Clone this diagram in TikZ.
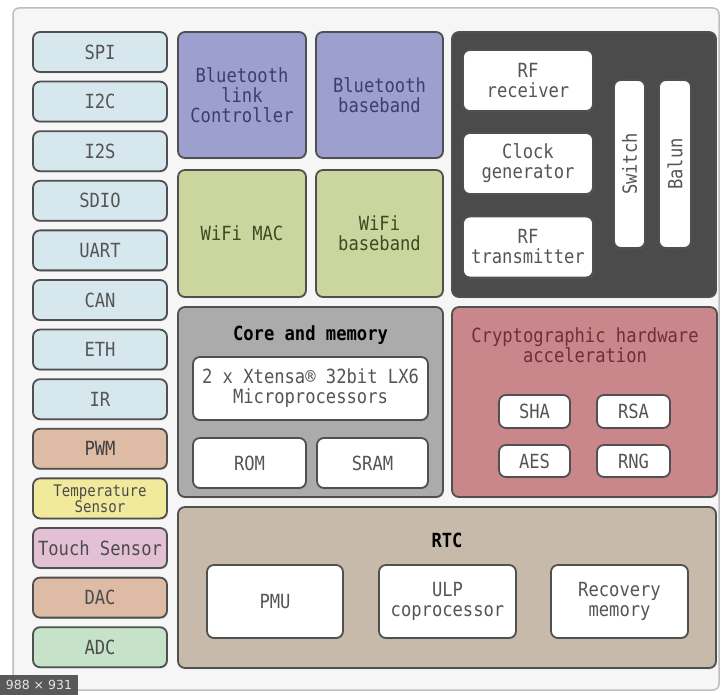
\documentclass[tikz,border=0pt]{standalone}
\usepackage{fontspec}
\setmainfont[FakeStretch=0.88]{DejaVu Sans Mono}
\newfontfamily\dimfont{DejaVu Sans}
\usetikzlibrary{shadows}
\definecolor{edge}{HTML}{505050}
\definecolor{ifc}{HTML}{D6E8EE}
\definecolor{tan}{HTML}{DDBBA5}
\definecolor{tempc}{HTML}{F1EA9C}
\definecolor{touchc}{HTML}{E4C0D7}
\definecolor{adcc}{HTML}{C6E3C9}
\definecolor{btc}{HTML}{9D9FCF}
\definecolor{btt}{HTML}{3B3E6E}
\definecolor{wific}{HTML}{CAD69D}
\definecolor{wifit}{HTML}{3F4A22}
\definecolor{rfc}{HTML}{4B4B4B}
\definecolor{corec}{HTML}{ABABAB}
\definecolor{cryc}{HTML}{C9868B}
\definecolor{cryt}{HTML}{6E2F35}
\definecolor{rtcc}{HTML}{C8BAAA}
\definecolor{txtg}{HTML}{555555}
\definecolor{framec}{HTML}{F6F6F6}
\tikzset{
  blk/.style={draw=edge, line width=1.8pt, rounded corners=7pt, inner sep=0pt, align=center,
    text=txtg, font=\fontsize{19.5}{20}\selectfont,
    drop shadow={shadow xshift=0.8pt, shadow yshift=-1.2pt, opacity=0.35}},
  side/.style={blk, fill=ifc, minimum width=134pt, minimum height=40pt},
  wbox/.style={blk, fill=white},
  lbl/.style={inner sep=0pt, align=center, font=\fontsize{19.5}{20}\selectfont}
}
\begin{document}
\begin{tikzpicture}[x=1pt,y=-1pt]
\useasboundingbox (0,0) rectangle (724,695);
\fill[white] (0,0) rectangle (724,695);
\node[draw={rgb,255:red,190;green,190;blue,190}, line width=1.5pt, fill=framec, rounded corners=6pt,
  minimum width=706pt, minimum height=682pt, inner sep=0pt] (frame) at (366,349) {};

% left column
\node[side] (spi) at (100,52) {SPI};
\node[side] (i2c) at (100,101.6) {I2C};
\node[side] (i2s) at (100,151.2) {I2S};
\node[side] (sdio) at (100,200.8) {SDIO};
\node[side] (uart) at (100,250.4) {UART};
\node[side] (can) at (100,300) {CAN};
\node[side] (eth) at (100,349.6) {ETH};
\node[side] (ir) at (100,399.2) {IR};
\node[side, fill=tan, text=black!75] (pwm) at (100,448.8) {PWM};
\node[side, fill=tempc, text=black!70, font=\fontsize{16}{13.5}\selectfont] (temp) at (100,498.4) {Temperature\\Sensor};
\node[side, fill=touchc, text=black!70] (touch) at (100,548) {Touch Sensor};
\node[side, fill=tan, text=black!70] (dac) at (100,597.6) {DAC};
\node[side, fill=adcc, text=black!70] (adc) at (100,647.2) {ADC};

% bluetooth and wifi
\node[blk, fill=btc, text=btt, minimum width=128pt, minimum height=126pt] (btl) at (242,95) {Bluetooth\\link\\Controller};
\node[blk, fill=btc, text=btt, minimum width=127pt, minimum height=126pt] (btb) at (379.5,95) {Bluetooth\\baseband};
\node[blk, fill=wific, text=wifit, minimum width=128pt, minimum height=127pt] (wmac) at (242,233.5) {WiFi MAC};
\node[blk, fill=wific, text=wifit, minimum width=127pt, minimum height=127pt] (wbb) at (379.5,233.5) {WiFi\\baseband};

% RF
\node[blk, fill=rfc, minimum width=264pt, minimum height=265pt] (rf) at (584,164.5) {};
\node[wbox, minimum width=130pt, minimum height=61pt] (rfrx) at (528,80.5) {RF\\receiver};
\node[wbox, minimum width=130pt, minimum height=61pt] (clk) at (528,163.5) {Clock\\generator};
\node[wbox, minimum width=130pt, minimum height=61pt] (rftx) at (528,247) {RF\\transmitter};
\node[wbox, minimum width=31pt, minimum height=168pt] (sw) at (629.5,164) {};
\node[lbl, rotate=90, text=txtg] (swt) at (sw.center) {Switch};
\node[wbox, minimum width=32pt, minimum height=168pt] (balun) at (675,164) {};
\node[lbl, rotate=90, text=txtg] (balt) at (balun.center) {Balun};

% core and memory
\node[blk, fill=corec, minimum width=265pt, minimum height=190pt] (core) at (310.5,402) {};
\node[lbl, text=black, font=\fontsize{19.5}{20}\bfseries] (coret) at (310.5,335) {Core and memory};
\node[wbox, minimum width=235pt, minimum height=63pt] (xt) at (310.5,388.5) {2 x Xtensa® 32bit LX6\\Microprocessors};
\node[wbox, minimum width=113pt, minimum height=50pt] (rom) at (249.5,463) {ROM};
\node[wbox, minimum width=111pt, minimum height=50pt] (sram) at (372.5,463) {SRAM};

% crypto
\node[blk, fill=cryc, minimum width=265pt, minimum height=190pt] (cry) at (584.5,402) {};
\node[lbl, text=cryt] (cryt) at (585,345) {Cryptographic hardware\\acceleration};
\node[wbox, minimum width=71pt, minimum height=33pt] (sha) at (534.5,411.5) {SHA};
\node[wbox, minimum width=73pt, minimum height=33pt] (rsa) at (633.5,411.5) {RSA};
\node[wbox, minimum width=71pt, minimum height=32pt] (aes) at (534.5,461) {AES};
\node[wbox, minimum width=73pt, minimum height=32pt] (rng) at (633.5,461) {RNG};

% RTC
\node[blk, fill=rtcc, minimum width=538pt, minimum height=161pt] (rtc) at (447,587.5) {};
\node[lbl, text=black, font=\fontsize{19.5}{20}\bfseries] (rtct) at (447,540) {RTC};
\node[wbox, minimum width=136pt, minimum height=73pt] (pmu) at (275,601.5) {PMU};
\node[wbox, minimum width=137pt, minimum height=73pt] (ulp) at (447.5,601.5) {ULP\\coprocessor};
\node[wbox, minimum width=137pt, minimum height=73pt] (rec) at (619.5,601.5) {Recovery\\memory};

% size tag
\node[fill=black!65, text=white!90!black, inner sep=0pt, minimum width=78pt, minimum height=20pt,
  font=\dimfont\fontsize{12.5}{14}\selectfont] (dim) at (39,685) {988 × 931};
\end{tikzpicture}
\end{document}
